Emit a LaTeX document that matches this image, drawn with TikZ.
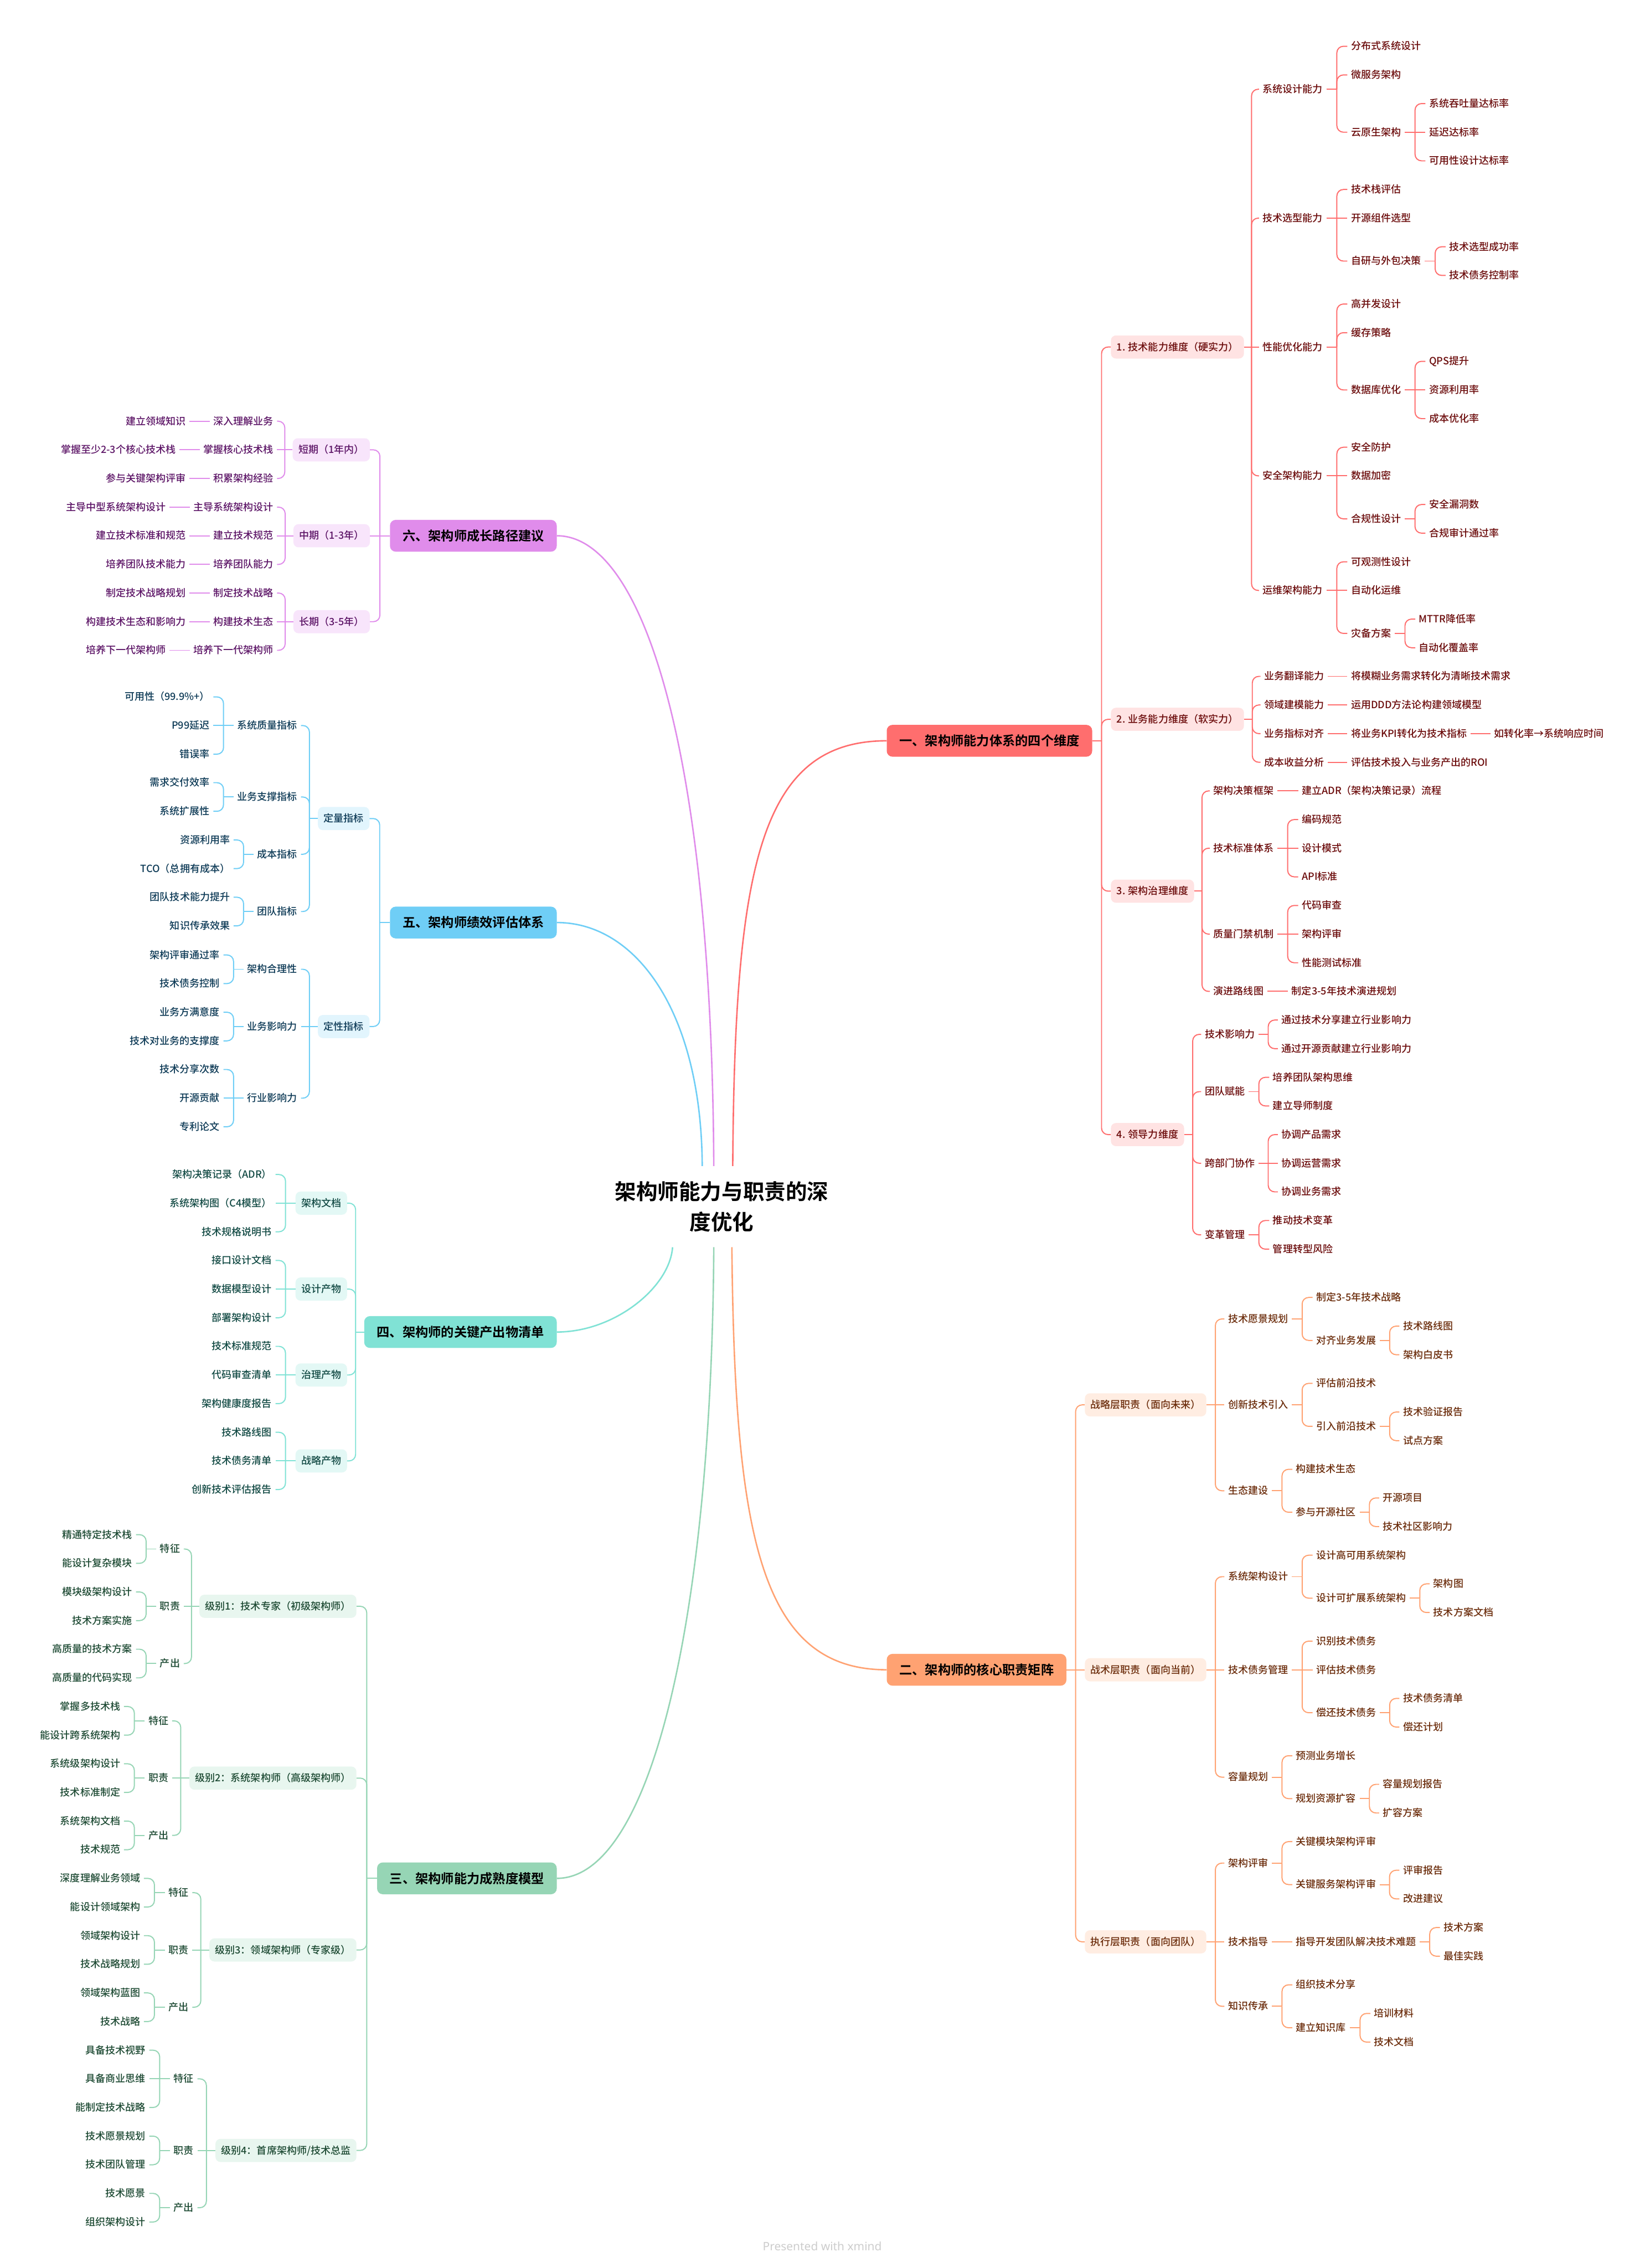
\documentclass[tikz,border=0pt]{standalone}
\usepackage{fontspec}
\setmainfont{Noto Sans CJK SC}[UprightFont={* Medium}, BoldFont={* Bold}]
\newfontfamily\footf{Noto Sans}
\usetikzlibrary{calc}
\definecolor{redL}{HTML}{FF6E6E}\definecolor{redF}{HTML}{FFE3E3}\definecolor{redT}{HTML}{6B0B0B}
\definecolor{orgL}{HTML}{FFA272}\definecolor{orgF}{HTML}{FFEDE2}\definecolor{orgT}{HTML}{6B2C0B}
\definecolor{grnL}{HTML}{96D5B5}\definecolor{grnF}{HTML}{E8F6EF}\definecolor{grnT}{HTML}{1D4A33}
\definecolor{tealL}{HTML}{80E2D5}\definecolor{tealF}{HTML}{E3F8F5}\definecolor{tealT}{HTML}{124A44}
\definecolor{bluL}{HTML}{6FCEF6}\definecolor{bluF}{HTML}{E2F5FD}\definecolor{bluT}{HTML}{0D3A56}
\definecolor{purL}{HTML}{E08CEB}\definecolor{purF}{HTML}{F8E5FB}\definecolor{purT}{HTML}{5C1466}
\definecolor{footC}{HTML}{CDCDCD}
\newcommand\fLeaf{\fontsize{19.64pt}{23pt}\selectfont}
\newcommand\fMain{\fontsize{25.33pt}{30pt}\selectfont\bfseries}
\newcommand\fRoot{\fontsize{42pt}{59.2pt}\selectfont\bfseries}
% right side: bent and straight connectors
\newcommand\cRB[2]{%
  \draw[ln] let \p1=(#1.east), \p2=(#2.west) in (\p1) -- ({(\x1+\x2)/2},\y1);
  \draw[ln, rounded corners=4.5mm] let \p1=(#1.east), \p2=(#2.west) in ({(\x1+\x2)/2},\y1) |- (\p2);}
\newcommand\cRS[2]{\draw[ln] (#1.east) -- (#2.west);}
% left side
\newcommand\cLB[2]{%
  \draw[ln] let \p1=(#1.west), \p2=(#2.east) in (\p1) -- ({(\x1+\x2)/2},\y1);
  \draw[ln, rounded corners=4.5mm] let \p1=(#1.west), \p2=(#2.east) in ({(\x1+\x2)/2},\y1) |- (\p2);}
\newcommand\cLS[2]{\draw[ln] (#1.west) -- (#2.east);}
\tikzset{
  txt/.style={font=\fLeaf, text height=5.8mm, text depth=0.9mm, inner xsep=2.5mm, inner ysep=1mm},
  R/.style={txt, anchor=west, xshift=-2.5mm},
  L/.style={txt, anchor=east, xshift=2.5mm},
  sub/.style={txt, inner xsep=4mm, inner ysep=4.65mm, rounded corners=3.5mm},
  RS/.style={sub, anchor=west},
  LS/.style={sub, anchor=east},
  mainbox/.style={font=\fMain, text=black, text height=7.5mm, text depth=0.7mm, inner xsep=8.7mm, inner ysep=6.9mm, rounded corners=4mm},
  rootnode/.style={font=\fRoot, text=black, align=center, minimum height=56mm, minimum width=170mm, inner sep=0mm},
  ln/.style={line width=0.75mm},
  curve/.style={line width=1mm},
}
\begin{document}
\begin{tikzpicture}[x=1mm, y=-1mm]
\useasboundingbox (0,0) rectangle (1137,1568);
\fill[white] (0,0) rectangle (1137,1568);

\node[rootnode] (root) at (499,834.2) {架构师能力与职责的深\\度优化};

% ================= Branch 1 (red) =================
\begin{scope}[every node/.append style={text=redT}, sub/.append style={fill=redF}, ln/.style={draw=redL, line width=0.75mm}]
\node[mainbox, fill=redL, anchor=west] (b1) at (613,512.15) {一、架构师能力体系的四个维度};
\node[RS] (t0) at (768,239.9) {1. 技术能力维度（硬实力）};
\node[RS] (u0) at (768,497.3) {2. 业务能力维度（软实力）};
\node[RS] (g0) at (768,616.1) {3. 架构治理维度};
\node[RS] (l0) at (768,784.4) {4. 领导力维度};
\node[R] (t1) at (873,61.7) {系统设计能力};
\node[R] (t2) at (873,150.8) {技术选型能力};
\node[R] (t3) at (873,239.9) {性能优化能力};
\node[R] (t4) at (873,329) {安全架构能力};
\node[R] (t5) at (873,408.2) {运维架构能力};
\node[R] (t11) at (934,32) {分布式系统设计};
\node[R] (t12) at (934,51.8) {微服务架构};
\node[R] (t13) at (934,91.4) {云原生架构};
\node[R] (t131) at (988,71.6) {系统吞吐量达标率};
\node[R] (t132) at (988,91.4) {延迟达标率};
\node[R] (t133) at (988,111.2) {可用性设计达标率};
\node[R] (t21) at (934,131) {技术栈评估};
\node[R] (t22) at (934,150.8) {开源组件选型};
\node[R] (t23) at (934,180.5) {自研与外包决策};
\node[R] (t231) at (1002,170.6) {技术选型成功率};
\node[R] (t232) at (1002,190.4) {技术债务控制率};
\node[R] (t31) at (934,210.2) {高并发设计};
\node[R] (t32) at (934,230) {缓存策略};
\node[R] (t33) at (934,269.6) {数据库优化};
\node[R] (t331) at (988,249.8) {QPS提升};
\node[R] (t332) at (988,269.6) {资源利用率};
\node[R] (t333) at (988,289.4) {成本优化率};
\node[R] (t41) at (934,309.2) {安全防护};
\node[R] (t42) at (934,329) {数据加密};
\node[R] (t43) at (934,358.7) {合规性设计};
\node[R] (t431) at (988,348.8) {安全漏洞数};
\node[R] (t432) at (988,368.6) {合规审计通过率};
\node[R] (t51) at (934,388.4) {可观测性设计};
\node[R] (t52) at (934,408.2) {自动化运维};
\node[R] (t53) at (934,437.9) {灾备方案};
\node[R] (t531) at (981,428) {MTTR降低率};
\node[R] (t532) at (981,447.8) {自动化覆盖率};
\node[R] (u1) at (874,467.6) {业务翻译能力};
\node[R] (u2) at (874,487.4) {领域建模能力};
\node[R] (u3) at (874,507.2) {业务指标对齐};
\node[R] (u4) at (874,527) {成本收益分析};
\node[R] (u1a) at (934,467.6) {将模糊业务需求转化为清晰技术需求};
\node[R] (u2a) at (934,487.4) {运用DDD方法论构建领域模型};
\node[R] (u3a) at (934,507.2) {将业务KPI转化为技术指标};
\node[R] (u3b) at (1033,507.2) {如转化率→系统响应时间};
\node[R] (u4a) at (934,527) {评估技术投入与业务产出的ROI};
\node[R] (g1) at (839,546.8) {架构决策框架};
\node[R] (g1a) at (900,546.8) {建立ADR（架构决策记录）流程};
\node[R] (g2) at (839,586.4) {技术标准体系};
\node[R] (g21) at (900,566.6) {编码规范};
\node[R] (g22) at (900,586.4) {设计模式};
\node[R] (g23) at (900,606.2) {API标准};
\node[R] (g3) at (839,645.8) {质量门禁机制};
\node[R] (g31) at (900,626) {代码审查};
\node[R] (g32) at (900,645.8) {架构评审};
\node[R] (g33) at (900,665.6) {性能测试标准};
\node[R] (g4) at (839,685.4) {演进路线图};
\node[R] (g4a) at (893,685.4) {制定3-5年技术演进规划};
\node[R] (l1) at (833,715.1) {技术影响力};
\node[R] (l11) at (886,705.2) {通过技术分享建立行业影响力};
\node[R] (l12) at (886,725) {通过开源贡献建立行业影响力};
\node[R] (l2) at (833,754.7) {团队赋能};
\node[R] (l21) at (880,744.8) {培养团队架构思维};
\node[R] (l22) at (880,764.6) {建立导师制度};
\node[R] (l3) at (833,804.2) {跨部门协作};
\node[R] (l31) at (886,784.4) {协调产品需求};
\node[R] (l32) at (886,804.2) {协调运营需求};
\node[R] (l33) at (886,824) {协调业务需求};
\node[R] (l4) at (833,853.7) {变革管理};
\node[R] (l41) at (880,843.8) {推动技术变革};
\node[R] (l42) at (880,863.6) {管理转型风险};
\foreach \c in {t0,u0,g0,l0} {\cRB{b1}{\c}}
\foreach \c in {t1,t2,t4,t5} {\cRB{t0}{\c}} \cRS{t0}{t3}
\foreach \c in {t11,t12,t13} {\cRB{t1}{\c}}
\foreach \c in {t131,t133} {\cRB{t13}{\c}} \cRS{t13}{t132}
\foreach \c in {t21,t23} {\cRB{t2}{\c}} \cRS{t2}{t22}
\foreach \c in {t231,t232} {\cRB{t23}{\c}}
\foreach \c in {t31,t32,t33} {\cRB{t3}{\c}}
\foreach \c in {t331,t333} {\cRB{t33}{\c}} \cRS{t33}{t332}
\foreach \c in {t41,t43} {\cRB{t4}{\c}} \cRS{t4}{t42}
\foreach \c in {t431,t432} {\cRB{t43}{\c}}
\foreach \c in {t51,t53} {\cRB{t5}{\c}} \cRS{t5}{t52}
\foreach \c in {t531,t532} {\cRB{t53}{\c}}
\foreach \c in {u1,u2,u3,u4} {\cRB{u0}{\c}}
\cRS{u1}{u1a} \cRS{u2}{u2a} \cRS{u3}{u3a} \cRS{u3a}{u3b} \cRS{u4}{u4a}
\foreach \c in {g1,g2,g3,g4} {\cRB{g0}{\c}}
\cRS{g1}{g1a}
\foreach \c in {g21,g23} {\cRB{g2}{\c}} \cRS{g2}{g22}
\foreach \c in {g31,g33} {\cRB{g3}{\c}} \cRS{g3}{g32}
\cRS{g4}{g4a}
\foreach \c in {l1,l2,l3,l4} {\cRB{l0}{\c}}
\foreach \c in {l11,l12} {\cRB{l1}{\c}}
\foreach \c in {l21,l22} {\cRB{l2}{\c}}
\foreach \c in {l31,l33} {\cRB{l3}{\c}} \cRS{l3}{l32}
\foreach \c in {l41,l42} {\cRB{l4}{\c}}
\end{scope}

% ================= Branch 2 (orange) =================
\begin{scope}[every node/.append style={text=orgT}, sub/.append style={fill=orgF}, ln/.style={draw=orgL, line width=0.75mm}]
\node[mainbox, fill=orgL, anchor=west] (b2) at (613,1154.4) {二、架构师的核心职责矩阵};
\node[RS] (s0) at (750,971.25) {战略层职责（面向未来）};
\node[RS] (a0) at (750,1154.4) {战术层职责（面向当前）};
\node[RS] (e0) at (750,1342.5) {执行层职责（面向团队）};
\node[R] (s1) at (849,911.85) {技术愿景规划};
\node[R] (s11) at (910,897) {制定3-5年技术战略};
\node[R] (s12) at (910,926.7) {对齐业务发展};
\node[R] (s121) at (970,916.8) {技术路线图};
\node[R] (s122) at (970,936.6) {架构白皮书};
\node[R] (s2) at (849,971.25) {创新技术引入};
\node[R] (s21) at (910,956.4) {评估前沿技术};
\node[R] (s22) at (910,986.1) {引入前沿技术};
\node[R] (s221) at (970,976.2) {技术验证报告};
\node[R] (s222) at (970,996) {试点方案};
\node[R] (s3) at (849,1030.65) {生态建设};
\node[R] (s31) at (896,1015.8) {构建技术生态};
\node[R] (s32) at (896,1045.5) {参与开源社区};
\node[R] (s321) at (956,1035.6) {开源项目};
\node[R] (s322) at (956,1055.4) {技术社区影响力};
\node[R] (a1) at (849,1090.05) {系统架构设计};
\node[R] (a11) at (910,1075.2) {设计高可用系统架构};
\node[R] (a12) at (910,1104.9) {设计可扩展系统架构};
\node[R] (a121) at (991,1095) {架构图};
\node[R] (a122) at (991,1114.8) {技术方案文档};
\node[R] (a2) at (849,1154.4) {技术债务管理};
\node[R] (a21) at (910,1134.6) {识别技术债务};
\node[R] (a22) at (910,1154.4) {评估技术债务};
\node[R] (a23) at (910,1184.1) {偿还技术债务};
\node[R] (a231) at (970,1174.2) {技术债务清单};
\node[R] (a232) at (970,1194) {偿还计划};
\node[R] (a3) at (849,1228.65) {容量规划};
\node[R] (a31) at (896,1213.8) {预测业务增长};
\node[R] (a32) at (896,1243.5) {规划资源扩容};
\node[R] (a321) at (956,1233.6) {容量规划报告};
\node[R] (a322) at (956,1253.4) {扩容方案};
\node[R] (e1) at (849,1288.05) {架构评审};
\node[R] (e11) at (896,1273.2) {关键模块架构评审};
\node[R] (e12) at (896,1302.9) {关键服务架构评审};
\node[R] (e121) at (970,1293) {评审报告};
\node[R] (e122) at (970,1312.8) {改进建议};
\node[R] (e2) at (849,1342.5) {技术指导};
\node[R] (e2a) at (896,1342.5) {指导开发团队解决技术难题};
\node[R] (e2a1) at (998,1332.6) {技术方案};
\node[R] (e2a2) at (998,1352.4) {最佳实践};
\node[R] (e3) at (849,1387.05) {知识传承};
\node[R] (e31) at (896,1372.2) {组织技术分享};
\node[R] (e32) at (896,1401.9) {建立知识库};
\node[R] (e321) at (950,1392) {培训材料};
\node[R] (e322) at (950,1411.8) {技术文档};
\foreach \c in {s0,e0} {\cRB{b2}{\c}} \cRS{b2}{a0}
\foreach \c in {s1,s3} {\cRB{s0}{\c}} \cRS{s0}{s2}
\foreach \c in {s11,s12} {\cRB{s1}{\c}}
\foreach \c in {s121,s122} {\cRB{s12}{\c}}
\foreach \c in {s21,s22} {\cRB{s2}{\c}}
\foreach \c in {s221,s222} {\cRB{s22}{\c}}
\foreach \c in {s31,s32} {\cRB{s3}{\c}}
\foreach \c in {s321,s322} {\cRB{s32}{\c}}
\foreach \c in {a1,a3} {\cRB{a0}{\c}} \cRS{a0}{a2}
\foreach \c in {a11,a12} {\cRB{a1}{\c}}
\foreach \c in {a121,a122} {\cRB{a12}{\c}}
\foreach \c in {a21,a23} {\cRB{a2}{\c}} \cRS{a2}{a22}
\foreach \c in {a231,a232} {\cRB{a23}{\c}}
\foreach \c in {a31,a32} {\cRB{a3}{\c}}
\foreach \c in {a321,a322} {\cRB{a32}{\c}}
\foreach \c in {e1,e3} {\cRB{e0}{\c}} \cRS{e0}{e2}
\foreach \c in {e11,e12} {\cRB{e1}{\c}}
\foreach \c in {e121,e122} {\cRB{e12}{\c}}
\cRS{e2}{e2a}
\foreach \c in {e2a1,e2a2} {\cRB{e2a}{\c}}
\foreach \c in {e31,e32} {\cRB{e3}{\c}}
\foreach \c in {e321,e322} {\cRB{e32}{\c}}
\end{scope}

% ================= Branch 6 (purple) =================
\begin{scope}[every node/.append style={text=purT}, sub/.append style={fill=purF}, ln/.style={draw=purL, line width=0.75mm}]
\node[mainbox, fill=purL, anchor=east] (b6) at (385,370.4) {六、架构师成长路径建议};
\node[LS] (h1) at (255.8,311) {短期（1年内）};
\node[LS] (h2) at (255.8,370.4) {中期（1-3年）};
\node[LS] (h3) at (255.8,429.8) {长期（3-5年）};
\node[L] (h11) at (189,291.2) {深入理解业务};
\node[L] (h11x) at (128.5,291.2) {建立领域知识};
\node[L] (h12) at (189,311) {掌握核心技术栈};
\node[L] (h12x) at (121.6,311) {掌握至少2-3个核心技术栈};
\node[L] (h13) at (189,330.8) {积累架构经验};
\node[L] (h13x) at (128.5,330.8) {参与关键架构评审};
\node[L] (h21) at (189,350.6) {主导系统架构设计};
\node[L] (h21x) at (114.7,350.6) {主导中型系统架构设计};
\node[L] (h22) at (189,370.4) {建立技术规范};
\node[L] (h22x) at (128.5,370.4) {建立技术标准和规范};
\node[L] (h23) at (189,390.2) {培养团队能力};
\node[L] (h23x) at (128.5,390.2) {培养团队技术能力};
\node[L] (h31) at (189,410) {制定技术战略};
\node[L] (h31x) at (128.5,410) {制定技术战略规划};
\node[L] (h32) at (189,429.8) {构建技术生态};
\node[L] (h32x) at (128.5,429.8) {构建技术生态和影响力};
\node[L] (h33) at (189,449.6) {培养下一代架构师};
\node[L] (h33x) at (114.7,449.6) {培养下一代架构师};
\foreach \c in {h1,h3} {\cLB{b6}{\c}} \cLS{b6}{h2}
\foreach \c in {h11,h13} {\cLB{h1}{\c}} \cLS{h1}{h12}
\foreach \c in {h21,h23} {\cLB{h2}{\c}} \cLS{h2}{h22}
\foreach \c in {h31,h33} {\cLB{h3}{\c}} \cLS{h3}{h32}
\foreach \c in {h11,h12,h13,h21,h22,h23,h31,h32,h33} {\cLS{\c}{\c x}}
\end{scope}

% ================= Branch 5 (blue) =================
\begin{scope}[every node/.append style={text=bluT}, sub/.append style={fill=bluF}, ln/.style={draw=bluL, line width=0.75mm}]
\node[mainbox, fill=bluL, anchor=east] (b5) at (385,637.8) {五、架构师绩效评估体系};
\node[LS] (q0) at (255.5,565.9) {定量指标};
\node[LS] (v0) at (255.5,709.7) {定性指标};
\node[L] (q1) at (205.6,501.6) {系统质量指标};
\node[L] (q2) at (205.6,551) {业务支撑指标};
\node[L] (q3) at (205.6,590.6) {成本指标};
\node[L] (q4) at (205.6,630.2) {团队指标};
\node[L] (q11) at (145,481.8) {可用性（99.9\%+）};
\node[L] (q12) at (145,501.6) {P99延迟};
\node[L] (q13) at (145,521.4) {错误率};
\node[L] (q21) at (145,541.1) {需求交付效率};
\node[L] (q22) at (145,560.9) {系统扩展性};
\node[L] (q31) at (159,580.7) {资源利用率};
\node[L] (q32) at (159,600.5) {TCO（总拥有成本）};
\node[L] (q41) at (159,620.3) {团队技术能力提升};
\node[L] (q42) at (159,640.1) {知识传承效果};
\node[L] (v1) at (205.6,670.1) {架构合理性};
\node[L] (v2) at (205.6,709.7) {业务影响力};
\node[L] (v3) at (205.6,759.2) {行业影响力};
\node[L] (v11) at (152,660.2) {架构评审通过率};
\node[L] (v12) at (152,680) {技术债务控制};
\node[L] (v21) at (152,699.8) {业务方满意度};
\node[L] (v22) at (152,719.6) {技术对业务的支撑度};
\node[L] (v31) at (152,739.4) {技术分享次数};
\node[L] (v32) at (152,759.2) {开源贡献};
\node[L] (v33) at (152,779) {专利论文};
\foreach \c in {q0,v0} {\cLB{b5}{\c}}
\foreach \c in {q1,q2,q3,q4} {\cLB{q0}{\c}}
\foreach \c in {q11,q13} {\cLB{q1}{\c}} \cLS{q1}{q12}
\foreach \c in {q21,q22} {\cLB{q2}{\c}}
\foreach \c in {q31,q32} {\cLB{q3}{\c}}
\foreach \c in {q41,q42} {\cLB{q4}{\c}}
\foreach \c in {v1,v3} {\cLB{v0}{\c}} \cLS{v0}{v2}
\foreach \c in {v11,v12} {\cLB{v1}{\c}}
\foreach \c in {v21,v22} {\cLB{v2}{\c}}
\foreach \c in {v31,v33} {\cLB{v3}{\c}} \cLS{v3}{v32}
\end{scope}

% ================= Branch 4 (teal) =================
\begin{scope}[every node/.append style={text=tealT}, sub/.append style={fill=tealF}, ln/.style={draw=tealL, line width=0.75mm}]
\node[mainbox, fill=tealL, anchor=east] (b4) at (385,920.9) {四、架构师的关键产出物清单};
\node[LS] (k1) at (240,831.8) {架构文档};
\node[LS] (k2) at (240,891.2) {设计产物};
\node[LS] (k3) at (240,950.6) {治理产物};
\node[LS] (k4) at (240,1010) {战略产物};
\node[L] (k11) at (188,812) {架构决策记录（ADR）};
\node[L] (k12) at (188,831.8) {系统架构图（C4模型）};
\node[L] (k13) at (188,851.6) {技术规格说明书};
\node[L] (k21) at (188,871.4) {接口设计文档};
\node[L] (k22) at (188,891.2) {数据模型设计};
\node[L] (k23) at (188,911) {部署架构设计};
\node[L] (k31) at (188,930.8) {技术标准规范};
\node[L] (k32) at (188,950.6) {代码审查清单};
\node[L] (k33) at (188,970.4) {架构健康度报告};
\node[L] (k41) at (188,990.2) {技术路线图};
\node[L] (k42) at (188,1010) {技术债务清单};
\node[L] (k43) at (188,1029.8) {创新技术评估报告};
\foreach \c in {k1,k2,k3,k4} {\cLB{b4}{\c}}
\foreach \c in {k11,k13} {\cLB{k1}{\c}} \cLS{k1}{k12}
\foreach \c in {k21,k23} {\cLB{k2}{\c}} \cLS{k2}{k22}
\foreach \c in {k31,k33} {\cLB{k3}{\c}} \cLS{k3}{k32}
\foreach \c in {k41,k43} {\cLB{k4}{\c}} \cLS{k4}{k42}
\end{scope}

% ================= Branch 3 (green) =================
\begin{scope}[every node/.append style={text=grnT}, sub/.append style={fill=grnF}, ln/.style={draw=grnL, line width=0.75mm}]
\node[mainbox, fill=grnL, anchor=east] (b3) at (385,1298.6) {三、架构师能力成熟度模型};
\node[LS] (m1) at (246.5,1110.5) {级别1：技术专家（初级架构师）};
\node[LS] (m2) at (246.5,1229.3) {级别2：系统架构师（高级架构师）};
\node[LS] (m3) at (246.5,1348.1) {级别3：领域架构师（专家级）};
\node[LS] (m4) at (246.5,1486.7) {级别4：首席架构师/技术总监};
\node[L] (m1f) at (124.5,1070.9) {特征};
\node[L] (m1d) at (124.5,1110.5) {职责};
\node[L] (m1o) at (124.5,1150.1) {产出};
\node[L] (m1f1) at (91.5,1061) {精通特定技术栈};
\node[L] (m1f2) at (91.5,1080.8) {能设计复杂模块};
\node[L] (m1d1) at (91.5,1100.6) {模块级架构设计};
\node[L] (m1d2) at (91.5,1120.4) {技术方案实施};
\node[L] (m1o1) at (91.5,1140.2) {高质量的技术方案};
\node[L] (m1o2) at (91.5,1160) {高质量的代码实现};
\node[L] (m2f) at (116.5,1189.7) {特征};
\node[L] (m2d) at (116.5,1229.3) {职责};
\node[L] (m2o) at (116.5,1268.9) {产出};
\node[L] (m2f1) at (83.2,1179.8) {掌握多技术栈};
\node[L] (m2f2) at (83.2,1199.6) {能设计跨系统架构};
\node[L] (m2d1) at (83.2,1219.4) {系统级架构设计};
\node[L] (m2d2) at (83.2,1239.2) {技术标准制定};
\node[L] (m2o1) at (83.2,1259) {系统架构文档};
\node[L] (m2o2) at (83.2,1278.8) {技术规范};
\node[L] (m3f) at (130.5,1308.5) {特征};
\node[L] (m3d) at (130.5,1348.1) {职责};
\node[L] (m3o) at (130.5,1387.7) {产出};
\node[L] (m3f1) at (97,1298.6) {深度理解业务领域};
\node[L] (m3f2) at (97,1318.4) {能设计领域架构};
\node[L] (m3d1) at (97,1338.2) {领域架构设计};
\node[L] (m3d2) at (97,1358) {技术战略规划};
\node[L] (m3o1) at (97,1377.8) {领域架构蓝图};
\node[L] (m3o2) at (97,1397.6) {技术战略};
\node[L] (m4f) at (134,1437.2) {特征};
\node[L] (m4d) at (134,1486.7) {职责};
\node[L] (m4o) at (134,1526.3) {产出};
\node[L] (m4f1) at (100.7,1417.4) {具备技术视野};
\node[L] (m4f2) at (100.7,1437.2) {具备商业思维};
\node[L] (m4f3) at (100.7,1457) {能制定技术战略};
\node[L] (m4d1) at (100.7,1476.8) {技术愿景规划};
\node[L] (m4d2) at (100.7,1496.6) {技术团队管理};
\node[L] (m4o1) at (100.7,1516.4) {技术愿景};
\node[L] (m4o2) at (100.7,1536.2) {组织架构设计};
\foreach \c in {m1,m2,m3,m4} {\cLB{b3}{\c}}
\foreach \m in {m1,m2,m3,m4} {\cLB{\m}{\m f} \cLB{\m}{\m o} \cLS{\m}{\m d}}
\foreach \m in {m1,m2,m3} {\cLB{\m f}{\m f1} \cLB{\m f}{\m f2}}
\cLB{m4f}{m4f1} \cLB{m4f}{m4f3} \cLS{m4f}{m4f2}
\foreach \m in {m1,m2,m3,m4} {\cLB{\m d}{\m d1} \cLB{\m d}{\m d2} \cLB{\m o}{\m o1} \cLB{\m o}{\m o2}}
\end{scope}

% ================= root curves =================
\draw[curve, draw=redL] ([xshift=7.6mm]root.north) .. controls (508,600) and (525,512.15) .. (b1.west);
\draw[curve, draw=orgL] ([xshift=7mm]root.south) .. controls (508,1060) and (525,1154.4) .. (b2.west);
\draw[curve, draw=purL] ([xshift=-5.5mm]root.north) .. controls (492,520) and (445,370.4) .. (b6.east);
\draw[curve, draw=bluL] ([xshift=-13.5mm]root.north) .. controls (485,700) and (440,637.8) .. (b5.east);
\draw[curve, draw=tealL] ([xshift=-34mm]root.south) .. controls (463,890) and (425,920.9) .. (b4.east);
\draw[curve, draw=grnL] ([xshift=-5.5mm]root.south) .. controls (492,1120) and (450,1298.6) .. (b3.east);

\node[font=\footf\fontsize{22.8pt}{27pt}\selectfont, text=footC] (ft) at (568.5,1553) {Presented with \textbf{xmind}};
\end{tikzpicture}
\end{document}
